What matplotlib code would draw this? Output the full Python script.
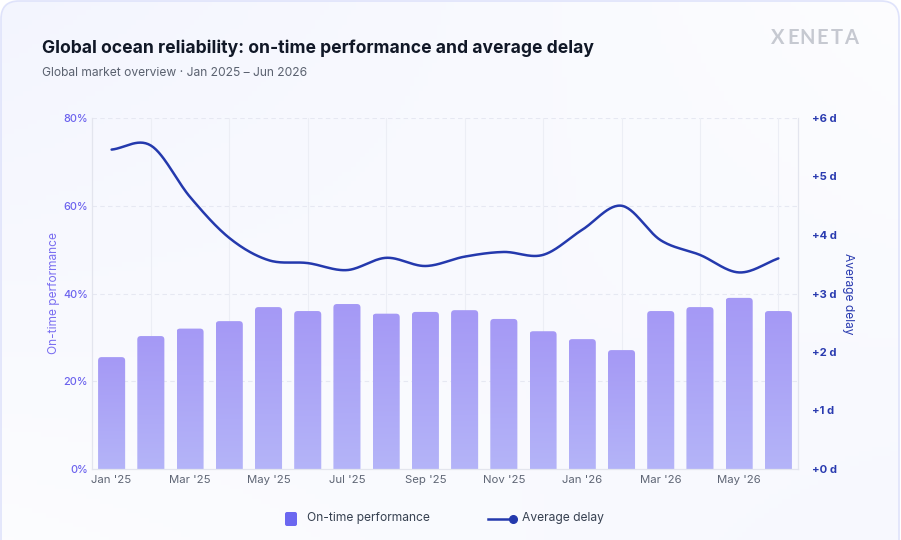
import matplotlib
matplotlib.use("Agg")
import matplotlib.pyplot as plt
import numpy as np
from matplotlib.patches import FancyBboxPatch
from matplotlib.lines import Line2D

months = ["Jan '25", "Feb '25", "Mar '25", "Apr '25", "May '25", "Jun '25",
          "Jul '25", "Aug '25", "Sep '25", "Oct '25", "Nov '25", "Dec '25",
          "Jan '26", "Feb '26", "Mar '26", "Apr '26", "May '26", "Jun '26"]
on_time = [25.5, 30.3, 32.0, 33.7, 36.9, 36.0, 37.6, 35.4, 35.8, 36.2, 34.2, 31.4,
           29.6, 27.1, 36.0, 36.9, 39.0, 36.0]
delay = [5.46, 5.53, 4.65, 3.95, 3.57, 3.52, 3.40, 3.61, 3.47, 3.63, 3.71, 3.66,
         4.09, 4.50, 3.91, 3.66, 3.36, 3.60]
pct_ticks = [0, 20, 40, 60, 80]
day_ticks = [0, 1, 2, 3, 4, 5, 6]

W, H = 901, 540
FONT = ["Inter", "DejaVu Sans"]
plt.rcParams['font.family'] = FONT


def smooth(x, y, n=30):
    # catmull-rom curve through the points, only for drawing the line
    x = np.asarray(x, float)
    y = np.asarray(y, float)
    px = np.concatenate([[2 * x[0] - x[1]], x, [2 * x[-1] - x[-2]]])
    py = np.concatenate([[2 * y[0] - y[1]], y, [2 * y[-1] - y[-2]]])
    xs, ys = [], []
    t = np.linspace(0, 1, n, endpoint=False)
    for i in range(1, len(px) - 2):
        for arr, out in ((px, xs), (py, ys)):
            p0, p1, p2, p3 = arr[i - 1], arr[i], arr[i + 1], arr[i + 2]
            out.append(0.5 * (2 * p1 + (-p0 + p2) * t + (2 * p0 - 5 * p1 + 4 * p2 - p3) * t**2
                              + (-p0 + 3 * p1 - 3 * p2 + p3) * t**3))
    xs.append([x[-1]])
    ys.append([y[-1]])
    return np.concatenate(xs), np.concatenate(ys)


fig = plt.figure(figsize=(W / 100, H / 100), dpi=100)
fig.patch.set_facecolor("white")

# card background
bg = fig.add_axes([0, 0, 1, 1], zorder=-10)
bg.set_xlim(0, W)
bg.set_ylim(H, 0)
bg.axis("off")
gx, gy = np.meshgrid(np.linspace(0, 1, 200), np.linspace(0, 1, 120))
g = np.clip(0.55 * (1 - gx) * (1 - gy) + 0.35 * gx * gy + 0.15, 0, 1)
c0 = np.array([1.0, 1.0, 1.0])
c1 = np.array([0.935, 0.945, 0.995])
img = c0[None, None, :] * (1 - g[..., None]) + c1[None, None, :] * g[..., None]
card = FancyBboxPatch((1, 1), W - 3, H + 30, boxstyle="round,pad=0,rounding_size=18",
                      fc="none", ec="#dfe3fb", lw=1.2, zorder=2)
bg.add_patch(card)
im = bg.imshow(img, extent=(1, W - 2, H + 30, 1), aspect="auto", zorder=1)
im.set_clip_path(card)

# titles and logo
fig.text(42 / W, 1 - 48 / H, "Global ocean reliability: on-time performance and average delay",
         fontsize=12.6, fontweight="bold", color="#111827", va="center", ha="left")
fig.text(42 / W, 1 - 73 / H, "Global market overview · Jan 2025 – Jun 2026",
         fontsize=8.7, color="#5b6270", va="center", ha="left")
logo = "XENETA"
for k, ch in enumerate(logo):
    bg.text(778 + k * 14.7, 38.5, ch, fontsize=14.5, fontweight="bold", color="#c6c9d1",
            va="center", ha="center", family=["Lato", "DejaVu Sans"], zorder=3)

# main axes
L, R, B, T = 92, 798, 469, 118
ax = fig.add_axes([L / W, 1 - B / H, (R - L) / W, (B - T) / H])
ax.patch.set_alpha(0)
x = np.arange(len(months))
ax.set_xlim(-0.5, len(months) - 0.5)
ax.set_ylim(0, 80)

for v in pct_ticks[1:]:
    ax.axhline(v, color="#e6e8f2", lw=0.8, ls=(0, (4, 3)), zorder=0)
for i in x[1::2]:
    ax.axvline(i, color="#eceef5", lw=0.8, zorder=0)

bars = ax.bar(x, on_time, width=0.69, color="none", edgecolor="none")
xu = (len(months)) / (R - L)
yu = 80 / (B - T)
top_c = np.array([0.647, 0.600, 0.961])
bot_c = np.array([0.706, 0.706, 0.973])
for b in bars:
    bx, bw, bh = b.get_x(), b.get_width(), b.get_height()
    p = FancyBboxPatch((bx, -2), bw, bh + 2,
                       boxstyle="round,pad=0,rounding_size=%f" % (3.5 * xu),
                       mutation_aspect=yu / xu, fc="none", ec="none", zorder=2)
    ax.add_patch(p)
    t = np.linspace(0, 1, 64)[:, None]
    grad = top_c[None, None, :] * (1 - t[..., None]) + bot_c[None, None, :] * t[..., None]
    gi = ax.imshow(grad, extent=(bx, bx + bw, 0, bh), aspect="auto", zorder=2,
                   interpolation="bilinear")
    gi.set_clip_path(p)
ax.set_xlim(-0.5, len(months) - 0.5)
ax.set_ylim(0, 80)

ax.spines["top"].set_visible(False)
for s in ["left", "bottom", "right"]:
    ax.spines[s].set_color("#e3e5ee")
    ax.spines[s].set_linewidth(0.9)

ax.set_yticks(pct_ticks)
ax.set_yticklabels(["%d%%" % v for v in pct_ticks])
ax.tick_params(axis="y", length=0, pad=3, labelsize=7.8, labelcolor="#6b62ee")
for lab in ax.get_yticklabels():
    lab.set_fontweight("medium")
ax.set_xticks(x[::2])
ax.set_xticklabels(months[::2])
ax.tick_params(axis="x", length=0, pad=4, labelsize=8.2, labelcolor="#5f6675")
ax.set_ylabel("On-time performance", color="#7b6ff1", fontsize=8.6, labelpad=2)

ax2 = ax.twinx()
ax2.set_ylim(0, 6)
ax2.set_xlim(-0.5, len(months) - 0.5)
for s in ["top", "left", "bottom", "right"]:
    ax2.spines[s].set_visible(False)
sx, sy = smooth(x, delay)
ax2.plot(sx, sy, color="#2439ad", lw=1.8, solid_capstyle="round", zorder=5)
ax2.set_yticks(day_ticks)
ax2.set_yticklabels(["+%d d" % v for v in day_ticks])
ax2.tick_params(axis="y", length=0, pad=10, labelsize=8.1, labelcolor="#2a3bb0")
for lab in ax2.get_yticklabels():
    lab.set_fontweight("bold")
ax2.set_ylabel("Average delay", color="#2a3bb0", fontsize=8.6, rotation=270, labelpad=12)

# legend
lx = bg
lx.add_patch(FancyBboxPatch((285, 512), 12, 14, boxstyle="round,pad=0,rounding_size=2",
                            fc="#6b67f0", ec="none", zorder=3))
lx.text(307, 518, "On-time performance", fontsize=8.7, color="#374151", va="center", ha="left", zorder=3)
lx.add_line(Line2D([488, 512], [519, 519], color="#2439ad", lw=1.8, zorder=3))
lx.plot([513], [519], "o", color="#2439ad", ms=5.5, zorder=3)
lx.text(522, 518, "Average delay", fontsize=8.7, color="#374151", va="center", ha="left", zorder=3)

fig.savefig("out.png", dpi=100)
